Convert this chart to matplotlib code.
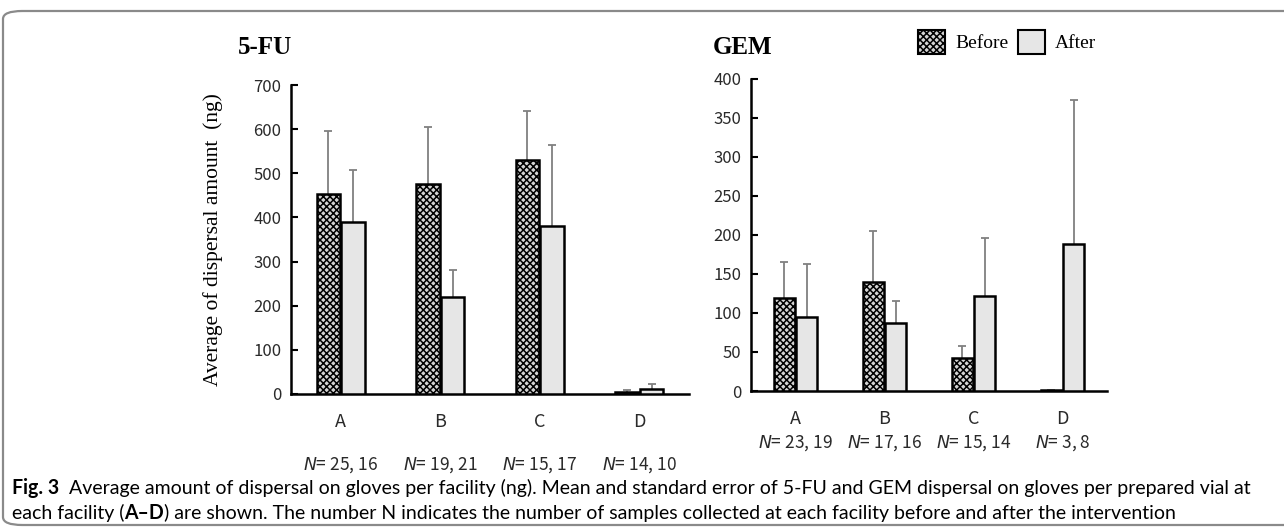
import numpy as np
import matplotlib
matplotlib.use("Agg")
import matplotlib.pyplot as plt
from matplotlib.patches import FancyBboxPatch, Patch

# facilities and N labels
facilities = ["A", "B", "C", "D"]
n_fu = ["25, 16", "19, 21", "15, 17", "14, 10"]
n_gem = ["23, 19", "17, 16", "15, 14", "3, 8"]

# 5-FU mean and standard error (ng)
fu_before = [453, 476, 529, 5]
fu_before_se = [142, 129, 111, 3]
fu_after = [389, 219, 381, 12]
fu_after_se = [118, 62, 182, 10]

# GEM mean and standard error (ng)
gem_before = [119, 140, 42, 0.8]
gem_before_se = [46, 65, 16, 0]
gem_after = [95, 87, 121, 188]
gem_after_se = [68, 28, 75, 184]

W, H = 1284, 531
plt.rcParams['hatch.linewidth'] = 1.1
plt.rcParams['mathtext.fontset'] = 'custom'
plt.rcParams['mathtext.it'] = 'DejaVu Sans:italic'
tick_font = ['Noto Sans CJK JP', 'DejaVu Sans']
serif = 'Liberation Serif'
before_fc = '#d4d4d4'
before_hatch = 'xxxxx'

fig = plt.figure(figsize=(W / 100, H / 100), dpi=100)

def px(x0, y_top, x1, y_bot):
    return [x0 / W, 1 - y_bot / H, (x1 - x0) / W, (y_bot - y_top) / H]

def panel(rect, before, bse, after, ase, ymax, ystep, nlab, title, tx, n_off, ylabel=None):
    ax = fig.add_axes(rect)
    x = np.arange(len(facilities))
    w = 0.235
    ekw = dict(ecolor='#808080', elinewidth=1.3, capsize=3, capthick=1.3, zorder=2)
    bars = []
    bars.append(ax.bar(x - 0.125, before, w, facecolor=before_fc, edgecolor='black',
                       linewidth=1.8, hatch=before_hatch, zorder=3,
                       yerr=[np.zeros(4), bse], error_kw=ekw))
    bars.append(ax.bar(x + 0.125, after, w, facecolor='#e6e6e6', edgecolor='black',
                       linewidth=1.8, zorder=3,
                       yerr=[np.zeros(4), ase], error_kw=ekw))
    # only the upper cap is drawn
    for b in bars:
        caps = b.errorbar.lines[1]
        caps[0].set_visible(False)
    ax.set_xlim(-0.5, 3.5)
    ax.set_ylim(0, ymax)
    ax.set_yticks(np.arange(0, ymax + 1, ystep))
    ax.set_xticks(x)
    ax.set_xticklabels(facilities, family=tick_font, fontsize=13, color='#2a2a2a')
    for lab in ax.get_yticklabels():
        lab.set_family(tick_font)
        lab.set_fontsize(12)
        lab.set_color('#2a2a2a')
    ax.tick_params(axis='y', direction='in', length=5, width=1.5, pad=7)
    ax.tick_params(axis='x', length=0, pad=14)
    for s in ['top', 'right']:
        ax.spines[s].set_visible(False)
    ax.spines['left'].set_linewidth(1.8)
    ax.spines['bottom'].set_linewidth(1.8)
    for i, n in enumerate(nlab):
        ax.annotate(r"$\it{N}$= " + n, xy=(i, 0), xycoords=('data', 'axes fraction'),
                    xytext=(0, -n_off), textcoords='offset pixels',
                    ha='center', va='center', fontsize=12.5, color='#2a2a2a',
                    family=tick_font)
    fig.text(tx / W, 1 - 47 / H, title, family=serif, weight='bold',
             fontsize=18, ha='left', va='center')
    if ylabel:
        ax.set_ylabel(ylabel, family=serif, fontsize=15.5, labelpad=22)
    return ax

ax1 = panel(px(291, 85, 689, 394), fu_before, fu_before_se, fu_after, fu_after_se,
            700, 100, n_fu, "5-FU", 238, 71, ylabel="Average of dispersal amount  (ng)")
ax2 = panel(px(751, 78.6, 1107, 391), gem_before, gem_before_se, gem_after, gem_after_se,
            400, 50, n_gem, "GEM", 713, 52)

handles = [Patch(facecolor=before_fc, edgecolor='black', hatch=before_hatch, linewidth=1.5),
           Patch(facecolor='#e6e6e6', edgecolor='black', linewidth=1.5)]
fig.legend(handles, ["Before", "After"], loc='center',
           bbox_to_anchor=(1007 / W, 1 - 42 / H), ncol=2, frameon=False,
           handlelength=1.4, handleheight=1.6, columnspacing=0.5,
           handletextpad=0.5, prop=dict(family=serif, size=14))

# figure frame
frame = FancyBboxPatch((3 / W, 6 / H), 1.05, (H - 17) / H,
                       boxstyle="round,pad=0,rounding_size=0.015",
                       transform=fig.transFigure, facecolor='none',
                       edgecolor='#8a8a8a', linewidth=1.6, clip_on=False)
fig.patches.append(frame)

# caption
cap_font = 'Lato'
r = fig.canvas.get_renderer()
line1 = [("Fig. 3", True),
         ("  Average amount of dispersal on gloves per facility (ng). Mean and standard error "
          "of 5-FU and GEM dispersal on gloves per prepared vial at", False)]
line2 = [("each facility (", False), ("A\u2013D", True),
         (") are shown. The number N indicates the number of samples collected at each "
          "facility before and after the intervention", False)]

def run(pieces, y, size, draw=True):
    x = 12
    for txt, bold in pieces:
        t = fig.text(x / W, 1 - y / H, txt, family=cap_font, fontsize=size,
                     weight='bold' if bold else 'normal', va='center', ha='left')
        x += t.get_window_extent(renderer=r).width
        if not draw:
            t.remove()
    return x

# fit first caption line to the frame width
end = run(line1, 488, 10, draw=False)
cap_size = 10 * (1250 - 12) / (end - 12)
run(line1, 488, cap_size)
run(line2, 513, cap_size)

fig.savefig("out.png", dpi=100)
